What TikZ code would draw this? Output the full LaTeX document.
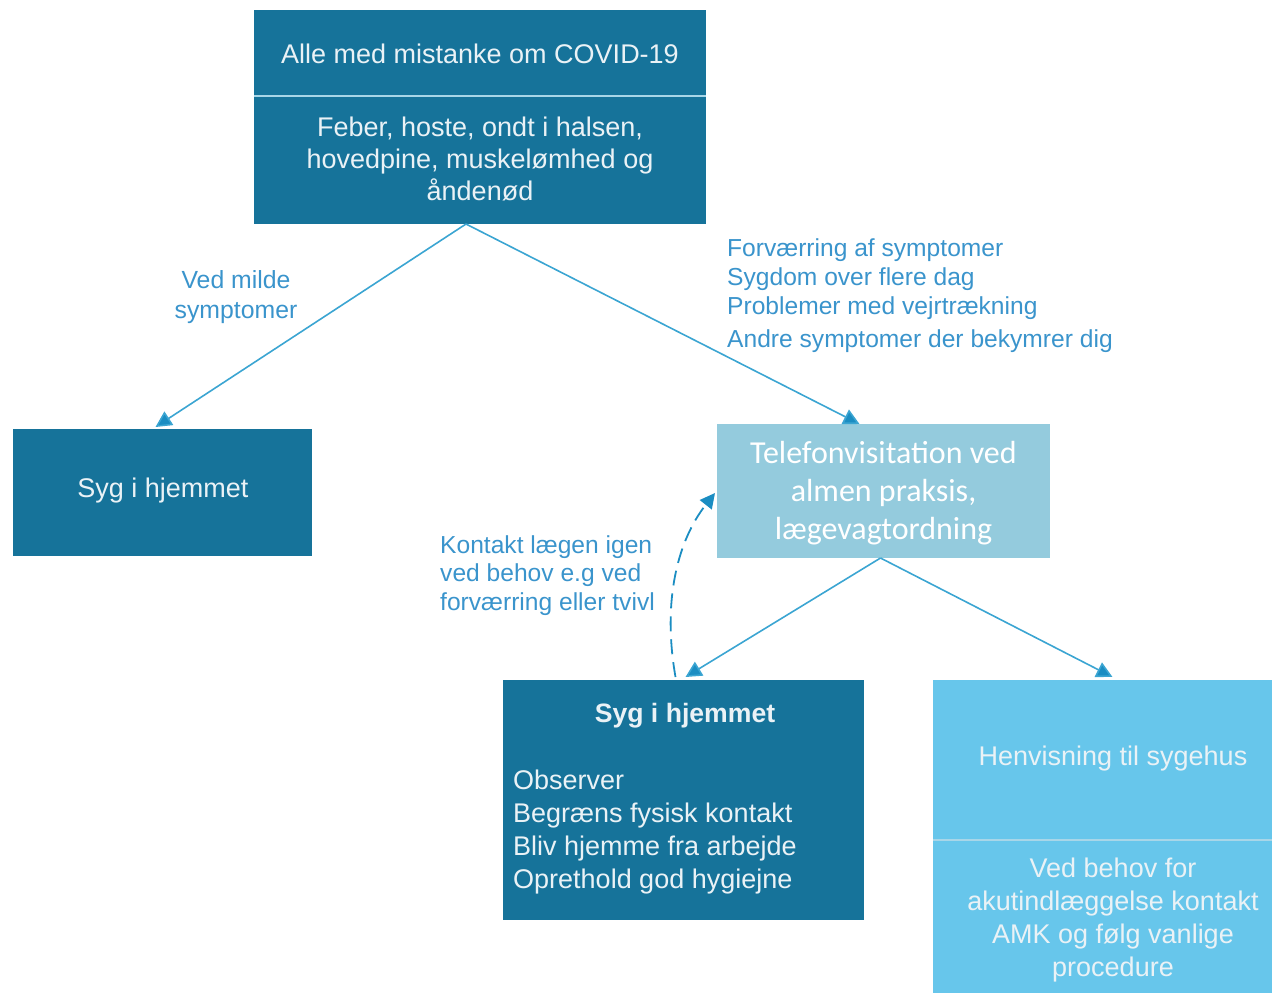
\documentclass[tikz,border=0pt]{standalone}
\usepackage{fontspec}
\setmainfont{Liberation Sans}
\newfontfamily\calib{Carlito}
\usetikzlibrary{arrows.meta,calc}
\definecolor{dark}{HTML}{16739A}
\definecolor{teal}{HTML}{94CBDD}
\definecolor{cyanbox}{HTML}{67C6EB}
\definecolor{linec}{HTML}{3BA5D2}
\definecolor{tipc}{HTML}{1B8DC2}
\definecolor{labc}{HTML}{3A94CC}
\definecolor{boxtxt}{HTML}{EAF2F6}
\definecolor{divc}{HTML}{A8D6E8}
\begin{document}
\begin{tikzpicture}[x=1pt,y=-1pt,
  box/.style={rectangle, inner sep=0pt, outer sep=0pt},
  btext/.style={text=boxtxt, inner sep=0pt, font=\fontsize{27}{32}\selectfont},
  lab/.style={text=labc, inner sep=0pt, font=\fontsize{24.6}{29}\selectfont},
  conn/.style={draw=linec, line width=1.6pt, -{Triangle[width=16pt,length=16pt,fill=tipc]}},
  divider/.style={draw=divc, line width=2pt}
]
\useasboundingbox (0,0) rectangle (1272,993);
% top box
\node[box, fill=dark, minimum width=452pt, minimum height=214pt] (top) at (480,117) {};
\coordinate (topdl) at (254,96);
\coordinate (topdr) at (706,96);
\draw[divider] (topdl) -- (topdr);
\node[btext] (toptitle) at (480,54) {Alle med mistanke om COVID-19};
\node[btext, align=center] (topsym) at (480,159) {Feber, hoste, ondt i halsen,\\hovedpine, muskelømhed og\\åndenød};
% left box
\node[box, fill=dark, minimum width=299pt, minimum height=127pt] (left) at (162.5,492.5) {};
\node[btext] (lefttxt) at (163,491) {Syg i hjemmet};
% tele box
\node[box, fill=teal, minimum width=333pt, minimum height=134pt] (tele) at (883.5,491) {};
\node[text=white, inner sep=0pt, align=center, font=\calib\fontsize{32}{38}\selectfont] (teletxt) at (883.5,493) {Telefonvisitation ved\\almen praksis,\\lægevagtordning};
% middle box
\node[box, fill=dark, minimum width=361pt, minimum height=240pt] (mid) at (683.5,800) {};
\node[btext, font=\bfseries\fontsize{26.6}{32}\selectfont] (midtitle) at (685,716) {Syg i hjemmet};
\node[btext, anchor=north west, align=left, font=\fontsize{27}{33}\selectfont] (miditems) at (513,770) {Observer\\Begræns fysisk kontakt\\Bliv hjemme fra arbejde\\Oprethold god hygiejne};
% right box
\node[box, fill=cyanbox, minimum width=339pt, minimum height=313pt] (right) at (1102.5,836.5) {};
\coordinate (rightdl) at (933,840);
\coordinate (rightdr) at (1272,840);
\draw[divider] (rightdl) -- (rightdr);
\node[btext] (righttitle) at (1113,759) {Henvisning til sygehus};
\node[btext, align=center, font=\fontsize{27}{33}\selectfont] (rightinfo) at (1113,920) {Ved behov for\\akutindlæggelse kontakt\\AMK og følg vanlige\\procedure};
% labels
\node[lab, align=center, font=\fontsize{24.8}{30}\selectfont] (lmild) at (236,297) {Ved milde\\symptomer};
\node[lab, anchor=north west, align=left] (lworse) at (727,238) {Forværring af symptomer\\Sygdom over flere dag\\Problemer med vejrtrækning\\[4pt]Andre symptomer der bekymrer dig};
\node[lab, anchor=north west, align=left, font=\fontsize{24.6}{28.5}\selectfont] (lcontact) at (440,535) {Kontakt lægen igen\\ved behov e.g ved\\forværring eller tvivl};
% connectors
\coordinate (topout) at ($(top.south)+(-14,0)$);
\draw[conn] (topout) -- ($(left.north)+(-7,-2)$);
\draw[conn] (topout) -- ($(tele.north)+(-24,0)$);
\coordinate (teleout) at ($(tele.south)+(-3,0)$);
\draw[conn] (teleout) -- ($(mid.north)+(2,-3)$);
\draw[conn] (teleout) -- ($(right.north)+(10,-3)$);
\draw[draw=tipc, line width=1.8pt, dash pattern=on 15pt off 8pt, -{Triangle[width=15pt,length=15pt,fill=tipc]}]
  ($(mid.north)+(-8,-3)$) .. controls (662,600) and (678,540) .. ($(tele.west)+(-2,2)$);
\end{tikzpicture}
\end{document}
